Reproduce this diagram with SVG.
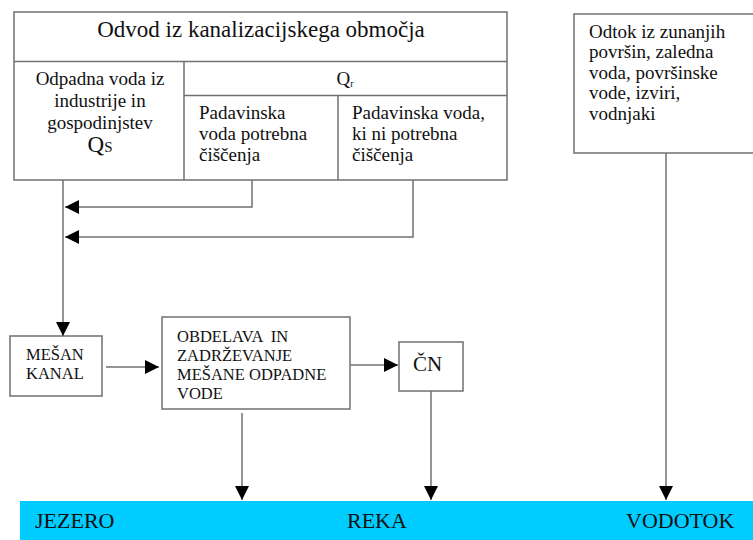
<svg xmlns="http://www.w3.org/2000/svg" width="753" height="540" viewBox="0 0 753 540" font-family="'Liberation Serif', 'DejaVu Serif', 'Times New Roman', serif">
<style>
  .box { fill: #ffffff; stroke: #707070; stroke-width: 1.5; }
  .ln { fill: none; stroke: #707070; stroke-width: 1.5; }
  text { font-family: 'Liberation Serif', 'DejaVu Serif', 'Times New Roman', serif; fill: #111111; }
  .t19 { font-size: 19px; }
  .cap { font-size: 16.5px; }
  .big { font-size: 22px; }
</style>
<defs>
  <marker id="arr" viewBox="0 0 14 14" refX="14" refY="7" markerWidth="14" markerHeight="14" markerUnits="userSpaceOnUse" orient="auto">
    <path d="M0,0 L14,7 L0,14 Z" fill="#000"/>
  </marker>
</defs>

<rect x="0" y="0" width="753" height="540" fill="#ffffff"/>

<g id="water">
  <rect x="20" y="501" width="733" height="39" fill="#00CCFF"/>
  <text class="big" x="35" y="528">JEZERO</text>
  <text class="big" x="347" y="528">REKA</text>
  <text class="big" x="626" y="528">VODOTOK</text>
</g>

<g id="odvod">
  <rect class="box" x="14" y="12" width="493" height="168"/>
  <line class="ln" x1="14" y1="61.5" x2="507" y2="61.5"/>
  <line class="ln" x1="184" y1="61.5" x2="184" y2="180"/>
  <line class="ln" x1="184" y1="95.5" x2="507" y2="95.5"/>
  <line class="ln" x1="338" y1="95.5" x2="338" y2="180"/>
  <text x="261" y="37" font-size="23" text-anchor="middle">Odvod iz kanalizacijskega območja</text>
  <text class="t19" x="100" y="85" text-anchor="middle">Odpadna voda iz</text>
  <text class="t19" x="100" y="107" text-anchor="middle">industrije in</text>
  <text class="t19" x="100" y="129" text-anchor="middle">gospodinjstev</text>
  <text x="100" y="152" text-anchor="middle"><tspan font-size="23">Q</tspan><tspan font-size="15">S</tspan></text>
  <text x="345" y="85" text-anchor="middle"><tspan font-size="19">Q</tspan><tspan font-size="10" dy="2">r</tspan></text>
  <text class="t19" x="199" y="119">Padavinska</text>
  <text class="t19" x="199" y="140">voda potrebna</text>
  <text class="t19" x="199" y="161">čiščenja</text>
  <text class="t19" x="352" y="119">Padavinska voda,</text>
  <text class="t19" x="352" y="140">ki ni potrebna</text>
  <text class="t19" x="352" y="161">čiščenja</text>
</g>

<g id="odtok">
  <rect class="box" x="574" y="14" width="185" height="139"/>
  <text class="t19" x="589" y="38">Odtok iz zunanjih</text>
  <text class="t19" x="589" y="58">površin, zaledna</text>
  <text class="t19" x="589" y="79">voda, površinske</text>
  <text class="t19" x="589" y="99">vode, izviri,</text>
  <text class="t19" x="589" y="120">vodnjaki</text>
</g>

<g id="mesan">
  <rect class="box" x="10" y="336" width="92" height="60"/>
  <text class="cap" x="26" y="360">MEŠAN</text>
  <text class="cap" x="26" y="379">KANAL</text>
</g>

<g id="obdelava">
  <rect class="box" x="162" y="317" width="188" height="92"/>
  <text class="cap" x="177" y="342" style="white-space:pre">OBDELAVA  IN</text>
  <text class="cap" x="177" y="361">ZADRŽEVANJE</text>
  <text class="cap" x="177" y="380">MEŠANE ODPADNE</text>
  <text class="cap" x="177" y="399">VODE</text>
</g>

<g id="cn">
  <rect class="box" x="399" y="342" width="64" height="49"/>
  <text x="413" y="371" font-size="21">ČN</text>
</g>

<g id="connectors">
  <line class="ln" x1="63" y1="180" x2="63" y2="336" marker-end="url(#arr)"/>
  <polyline class="ln" points="252,180 252,207 65,207" marker-end="url(#arr)"/>
  <polyline class="ln" points="413,180 413,237 65,237" marker-end="url(#arr)"/>
  <line class="ln" x1="106" y1="367" x2="159" y2="367" marker-end="url(#arr)"/>
  <line class="ln" x1="350" y1="365" x2="398" y2="365" marker-end="url(#arr)"/>
  <line class="ln" x1="242" y1="413" x2="242" y2="500" marker-end="url(#arr)"/>
  <line class="ln" x1="431" y1="391" x2="431" y2="500" marker-end="url(#arr)"/>
  <line class="ln" x1="666" y1="153" x2="666" y2="500" marker-end="url(#arr)"/>
</g>
</svg>
